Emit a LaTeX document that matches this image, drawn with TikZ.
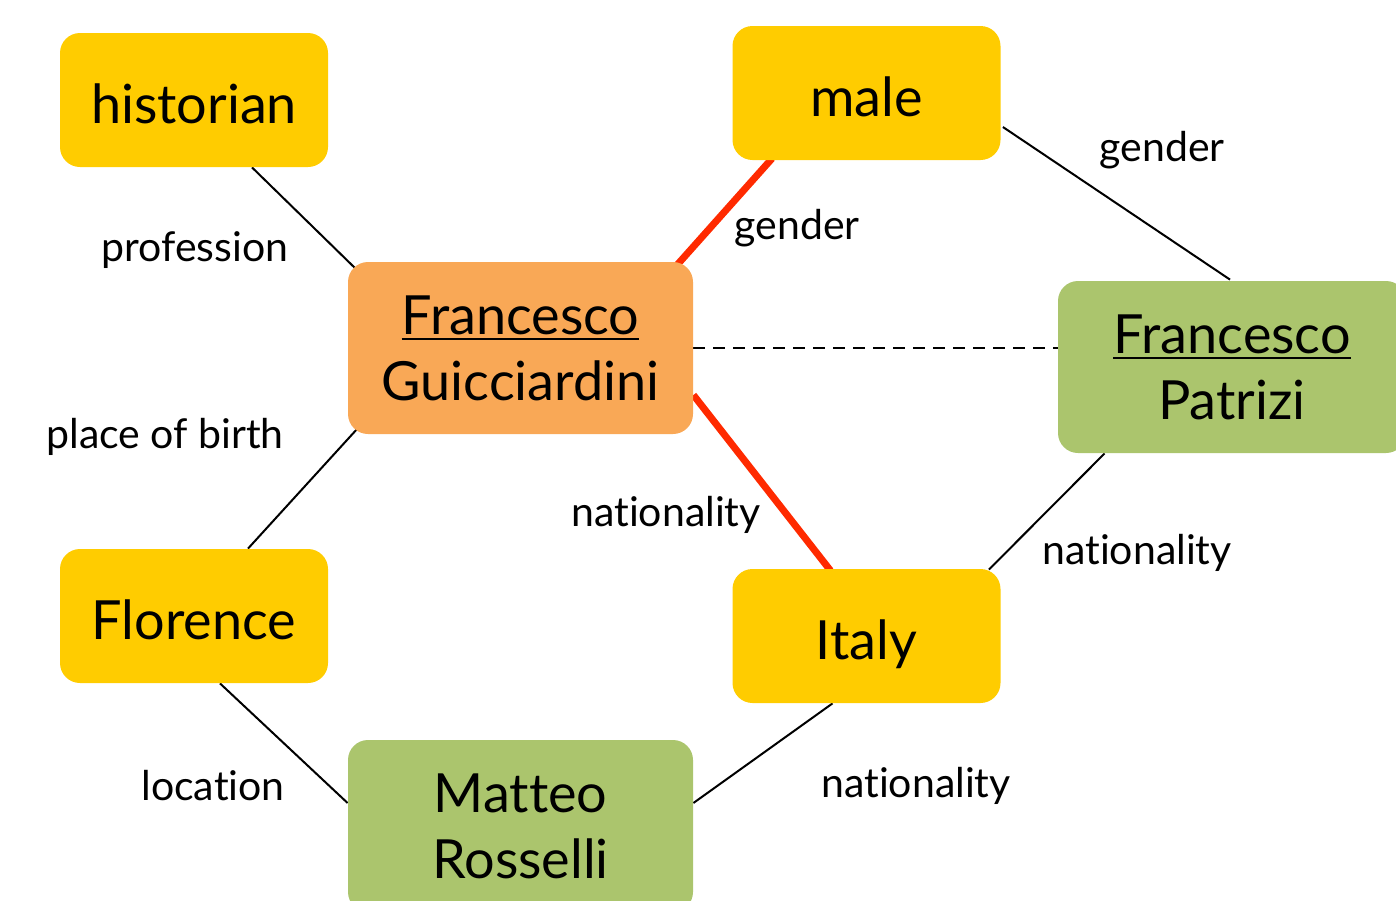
\documentclass[tikz,border=0pt]{standalone}
\usepackage{fontspec}
\setmainfont{Lato}[Ligatures=NoCommon]
\usetikzlibrary{calc, backgrounds}
\definecolor{valyellow}{HTML}{FFCC00}
\definecolor{subjorange}{HTML}{F9A856}
\definecolor{entgreen}{HTML}{ABC56D}
\definecolor{hitred}{HTML}{FF2A00}
\newcommand{\ulname}[1]{\setbox0\hbox{#1}\rlap{\rule[-3pt]{\wd0}{1pt}}\box0}
\tikzset{
  box/.style={rounded corners=10pt, align=center, inner sep=0pt, font=\fontsize{27}{33}\selectfont},
  value/.style={box, fill=valyellow, minimum width=134pt, minimum height=67pt, text height=28pt, text depth=5pt},
  subject/.style={box, fill=subjorange, minimum width=172.5pt, minimum height=86pt},
  entity/.style={box, fill=entgreen, minimum width=172.5pt, minimum height=86pt},
  rel/.style={line width=1pt, black},
  hit/.style={line width=3.5pt, hitred},
  same/.style={line width=1pt, dash pattern=on 6pt off 4pt},
  lbl/.style={font=\fontsize{20.5}{23}\selectfont}
}
\begin{document}
\begin{tikzpicture}[x=0.5pt, y=-0.5pt]
\useasboundingbox (0,0) rectangle (1396,900);
% nodes
\node[value] (historian) at (194,100) {historian};
\node[value] (male) at (866.5,93) {male};
\node[subject] (guicciardini) at (520.5,348) {\ulname{Francesco}\\Guicciardini};
\node[entity, minimum width=174pt] (patrizi) at (1232,367) {\ulname{Francesco}\\Patrizi};
\node[value] (florence) at (194,616) {Florence};
\node[value] (italy) at (866.5,636) {Italy};
\node[entity] (rosselli) at (520.5,826) {Matteo\\Rosselli};
% edges
\begin{scope}[on background layer]
\draw[rel] ($(historian.south)+(58,0)$) -- ($(guicciardini.north west)+(9,8)$);
\draw[hit] ($(male.south west)+(40,-2)$) -- ($(guicciardini.north east)+(-16,3)$);
\draw[rel] ($(male.east)+(2,34)$) -- ($(patrizi.north)+(-2,-1)$);
\draw[same] (guicciardini.east) -- (guicciardini.east -| patrizi.west);
\draw[rel] ($(guicciardini.south west)+(10,-6)$) -- ($(florence.north)+(54,0)$);
\draw[hit] ($(guicciardini.east)+(0,47)$) -- ($(italy.north)+(-36,2)$);
\draw[rel] ($(patrizi.south west)+(47,0)$) -- ($(italy.north east)+(-12,1)$);
\draw[rel] ($(florence.south)+(26,0)$) -- ($(rosselli.west)+(0,-23)$);
\draw[rel] ($(italy.south)+(-34,0)$) -- ($(rosselli.east)+(0,-23)$);
\end{scope}
% labels
\node[lbl] (l1) at (195,250) {profession};
\node[lbl] (l2) at (797,228) {gender};
\node[lbl] (l3) at (1162,150) {gender};
\node[lbl] (l4) at (165,437) {place of birth};
\node[lbl] (l5) at (666,515) {nationality};
\node[lbl] (l6) at (1137,553) {nationality};
\node[lbl] (l7) at (213,786) {location};
\node[lbl] (l8) at (916,786) {nationality};
\end{tikzpicture}
\end{document}
